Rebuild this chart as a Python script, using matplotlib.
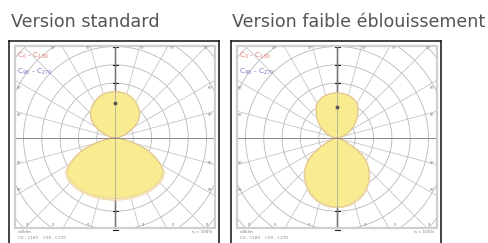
import numpy as np
import matplotlib.pyplot as plt
from matplotlib.patches import Rectangle, Circle

# --- Données photométriques (cd/klm), gamma 0 = nadir, 180 = zénith ---
gamma = np.arange(0, 181, 5)

# version standard
std_c0 = [340, 340, 340, 342, 343, 345, 347, 348, 348, 347, 343, 330, 293,
          240, 188, 115, 58, 24, 0,
          8, 17, 34, 57, 90, 123, 152, 173, 193, 206, 217, 228, 236, 244,
          250, 253, 254, 255]
std_c90 = [330, 330, 330, 332, 333, 335, 337, 338, 338, 337, 333, 320, 284,
           232, 180, 109, 55, 22, 0,
           8, 16, 33, 55, 87, 120, 148, 169, 189, 202, 213, 224, 232, 240,
           246, 249, 250, 251]

# version faible éblouissement
ug_c0 = [380, 380, 376, 368, 357, 343, 325, 303, 279, 251, 218, 178, 120,
         64, 33, 17, 8, 3, 0,
         9, 17, 28, 46, 68, 90, 112, 134, 156, 178, 202, 219, 229, 237,
         242, 245, 247, 248]
ug_c90 = [375, 375, 370, 362, 350, 336, 318, 296, 272, 244, 211, 172, 115,
          60, 30, 15, 7, 3, 0,
          8, 16, 27, 44, 66, 87, 109, 131, 153, 175, 199, 216, 227, 235,
          240, 243, 245, 246]

titles = ["Version standard", "Version faible éblouissement"]
legend_labels = [r"C$_0$ - C$_{180}$", r"C$_{90}$ - C$_{270}$"]
ring_values = [100, 200, 300, 400, 500, 600, 700]

PX = 0.183          # pixels par cd/klm
FILL = "#f9ec90"
PALE = "#fbf3cc"
RED = "#e07f7a"
BLUE = "#7474c4"


def outline(vals):
    r = np.array(vals) * PX
    g = np.radians(gamma)
    x = r * np.sin(g)
    y = -r * np.cos(g)
    xs = np.concatenate([x, -x[::-1]])
    ys = np.concatenate([y, y[::-1]])
    return xs, ys


def draw_panel(ax, c0, c90, dot_y):
    ax.set_xlim(-106, 104)
    ax.set_ylim(-110, 97)
    ax.set_xticks([])
    ax.set_yticks([])
    for s in ["left", "right", "top"]:
        ax.spines[s].set_linewidth(1.1)
        ax.spines[s].set_color("#111111")
    ax.spines["bottom"].set_visible(False)

    box = Rectangle((-100, -90), 200, 182, fill=False, ec="#cfcfcf", lw=1.6, zorder=6)
    ax.add_patch(box)

    # grille polaire
    for v in ring_values:
        c = Circle((0, 0), v * PX, fill=False, ec="#b8b8b8", lw=0.6, zorder=1)
        ax.add_patch(c)
        c.set_clip_path(box)
    for a in np.radians(np.arange(0, 360, 15)):
        ln, = ax.plot([0, 200 * np.sin(a)], [0, 200 * np.cos(a)],
                      color="#c0c0c0", lw=0.55, zorder=1)
        ln.set_clip_path(box)

    # axe vertical foncé
    ax.plot([0, 0], [-90, 92], color="#222222", lw=1.0, zorder=1.5)
    for v in ring_values[:5]:
        for sgn in (1, -1):
            ax.plot([-2.5, 2.5], [sgn * v * PX] * 2, color="#222222", lw=0.8, zorder=1.5)

    # courbes
    xs, ys = outline(c0)
    ax.fill(xs, ys, color=PALE, zorder=2)
    ax.plot(xs, ys, color=RED, lw=0.5, alpha=0.4, zorder=3)
    xs, ys = outline(c90)
    ax.fill(xs, ys, color=FILL, zorder=2.2)
    ax.plot(xs, ys, color=BLUE, lw=0.4, alpha=0.3, zorder=3)

    # lignes par-dessus
    ax.plot([0, 0], [-90, 92], color="#a0a0a0", lw=0.5, zorder=4)
    ax.plot([-100, 100], [0, 0], color="#8a8a8a", lw=0.7, zorder=4)
    ax.plot([0], [dot_y], "o", color="#555555", ms=1.8, zorder=5)

    # légende
    ax.text(-98, 82, legend_labels[0], color=RED, fontsize=5.2, va="center", ha="left", zorder=7)
    ax.text(-98, 66, legend_labels[1], color=BLUE, fontsize=5.2, va="center", ha="left", zorder=7)

    # petites étiquettes en bordure
    for xe in [-62, -27, 28, 58, 92]:
        ax.text(xe, 90, "90°", fontsize=2.2, color="#777777", ha="center", va="center", zorder=7)
    for xe in [-88, -62, -27, 28, 58, 92]:
        ax.text(xe, -87, "0°", fontsize=2.2, color="#777777", ha="center", va="center", zorder=7)
    for ye in [50, 23, -25, -52]:
        ax.text(-96, ye, "60°", fontsize=2.2, color="#777777", ha="center", va="center", zorder=7)
        ax.text(96, ye, "60°", fontsize=2.2, color="#777777", ha="center", va="center", zorder=7)

    # pied
    ax.text(-97, -94, "cd/klm", fontsize=3, color="#777777", ha="left", va="center")
    ax.text(-97, -100, "C0 - C180    C90 - C270", fontsize=3, color="#888888", ha="left", va="center")
    ax.text(97, -94, "η = 100%", fontsize=3, color="#777777", ha="right", va="center")


fig = plt.figure(figsize=(4.88, 2.43), dpi=100)
H = 243.0
W = 488.0
ax1 = fig.add_axes([9 / W, -5 / H, 210 / W, 207 / H])
ax2 = fig.add_axes([231 / W, -5 / H, 210 / W, 207 / H])

draw_panel(ax1, std_c0, std_c90, 35)
draw_panel(ax2, ug_c0, ug_c90, 31)

fig.text(11 / W, 1 - 22 / H, titles[0], fontsize=12.6, color="#555555", ha="left", va="center")
fig.text(232 / W, 1 - 22 / H, titles[1], fontsize=12.6, color="#555555", ha="left", va="center")

fig.savefig("out.png", dpi=100)
